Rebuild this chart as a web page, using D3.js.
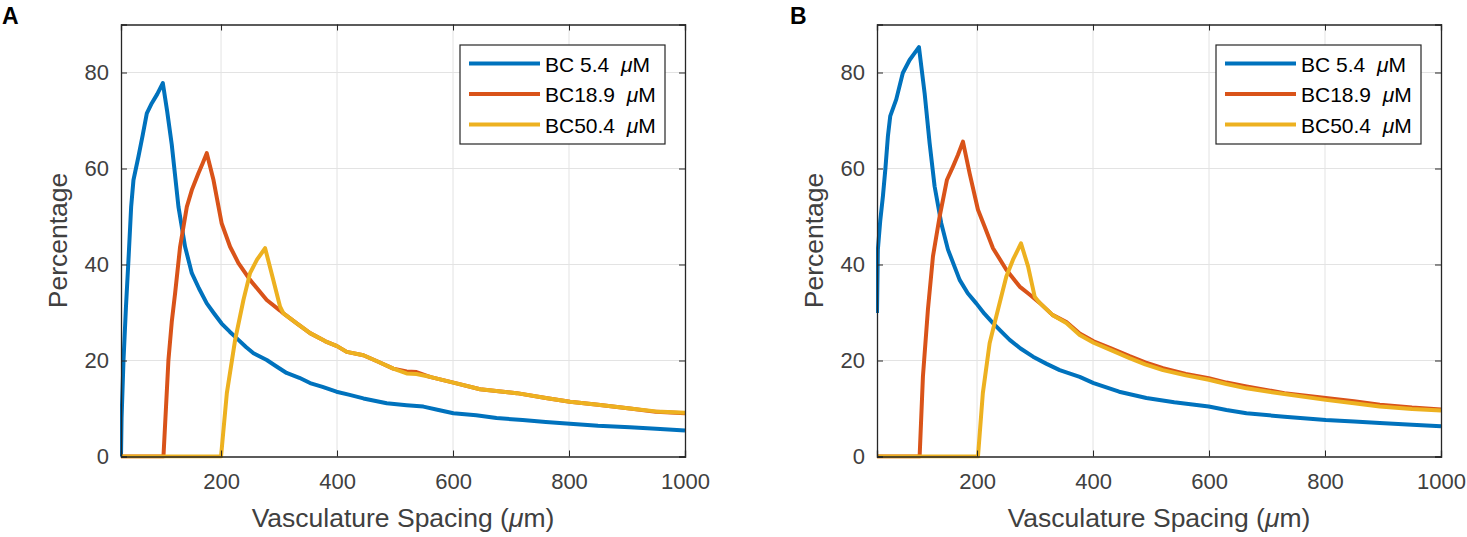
<!DOCTYPE html>
<html>
<head>
<meta charset="utf-8">
<script src="https://cdn.jsdelivr.net/npm/d3@7"></script>
<style>
  body { margin: 0; background: #fff; }
  text { font-family: "Liberation Sans", Arial, Helvetica, sans-serif; }
</style>
</head>
<body>
<div id="chart"></div>
<script>
var svgWidth = 1467;
var svgHeight = 537;

// series names and tick values
var seriesNames = ["BC 5.4  ", "BC18.9  ", "BC50.4  "];
var seriesColors = ["#0072BD", "#D95319", "#EDB120"];
var xTicks = [200, 400, 600, 800, 1000];
var yTicks = [0, 20, 40, 60, 80];
var xDomain = [27.5, 1000];
var yDomain = [0, 90];

// panel A: [spacing, percentage]
var blueA = [[27.5,0],[28.5,8],[31.8,20],[36,31],[40.4,41],[45,52],[49,57.6],[57.6,62.5],[65,67],[72,71.5],
  [80.6,73.6],[90,75.5],[99.6,77.8],[107,72],[115,65],[126.6,52],[138,43.7],[149.6,38.2],[162,35],[175.4,31.9],
  [188,29.8],[201,27.7],[215,26],[230,24.3],[243,22.8],[256,21.5],[278.8,20.1],[295,18.8],[313,17.4],[335,16.4],
  [353.5,15.3],[375,14.5],[399,13.5],[420,12.9],[445.5,12.1],[485.7,11.1],[520,10.7],[548.9,10.4],[575,9.7],
  [600.7,9.0],[640,8.6],[675,8.0],[720,7.6],[760,7.2],[801.6,6.8],[850,6.4],[905,6.1],[950,5.8],[1000,5.4]];
var orangeA = [[27.5,0],[100.7,0],[109.3,20.1],[115,28],[120.8,34],[129.4,43.7],[141,52],[149.6,55.5],[161,59],
  [168,61],[175.4,63.2],[187,57.6],[201,48.6],[215.6,43.7],[230,40.3],[250,36.8],[278.8,32.6],[301.8,30.4],
  [307.6,29.8],[330,27.8],[353.5,25.7],[380,24],[400,23],[416.7,21.8],[445.5,21.1],[470,19.8],[497,18.3],
  [520,17.7],[537,17.6],[560,16.6],[600.7,15.4],[646.7,14.0],[710,13.2],[760,12.2],[801.6,11.4],[850,10.8],
  [905,10.0],[950,9.3],[1000,9.0]];
var yellowA = [[27.5,0],[200,0],[210,13.2],[224.3,24.3],[238.6,32.6],[250,38.2],[262,41],[276,43.4],[290,36.8],
  [301.8,31.2],[307.6,29.8],[330,27.8],[353.5,25.7],[380,24],[400,23],[416.7,21.8],[445.5,21.1],[470,19.8],
  [497,18.3],[520,17.3],[537,17.2],[560,16.6],[600.7,15.4],[646.7,14.0],[710,13.2],[760,12.2],[801.6,11.4],
  [850,10.8],[905,10.0],[950,9.4],[1000,9.1]];

// panel B
var blueB = [[27.5,29.9],[29,43.1],[33,49],[37.7,54.2],[42,60],[46.3,66.7],[50.3,70.9],[60.7,74.4],[72,79.9],
  [83.7,82.6],[92,84],[99.8,85.3],[109.6,75.7],[118.2,65.3],[126.8,56.3],[138.3,48.6],[149.9,43.1],[170,36.8],
  [184,34],[198.7,31.9],[213,29.7],[227.5,27.8],[242,26],[256.3,24.3],[275,22.5],[296.5,20.8],[320,19.3],
  [342.5,18.0],[377,16.6],[401,15.3],[445,13.5],[492,12.2],[540,11.3],[599.6,10.4],[630,9.7],[664.6,9.0],
  [730,8.3],[801.3,7.6],[850,7.3],[894.5,7.0],[950,6.6],[1000,6.3]];
var orangeB = [[27.5,0],[101,0],[106.7,16.7],[115.3,30.6],[124,41.7],[135.5,50],[148,57.6],[158.5,60.4],
  [167,62.8],[175.7,65.6],[187.2,59],[201.6,51.4],[213,47.9],[227.5,43.4],[250.5,38.9],[273.5,35.4],[290,33.8],
  [308,32],[330,29.5],[354,28],[377,25.6],[401,24],[430,22.6],[463,20.9],[490,19.6],[520.6,18.4],[560,17.2],
  [599.6,16.3],[630,15.4],[664.6,14.6],[730,13.2],[801.3,12.2],[850,11.5],[894.5,10.8],[950,10.2],[1000,9.8]];
var yellowB = [[27.5,0],[201.6,0],[210,13.2],[221.7,23.6],[233,29.1],[250.5,37.5],[262,41],[275.8,44.4],
  [288,39.6],[299.4,33.3],[308,32],[330,29.5],[354,27.8],[377,25.3],[401,23.7],[430,22.2],[463,20.5],[490,19.2],
  [520.6,18.0],[560,16.9],[599.6,16.0],[630,15.1],[664.6,14.2],[730,13.0],[801.3,11.8],[850,11.1],
  [894.5,10.4],[950,9.9],[1000,9.6]];

var panels = [
  {label: "A", left: 121, labelX: 2, series: [blueA, orangeA, yellowA]},
  {label: "B", left: 877, labelX: 790, series: [blueB, orangeB, yellowB]}
];

var plotW = 564;
var plotTop = 24.5;
var plotBottom = 456.5;
var axisColor = "#262626";
var textColor = "#404040";

var svg = d3.select("#chart")
  .append("svg")
  .attr("width", svgWidth)
  .attr("height", svgHeight);

panels.forEach(function(p, pi) {
  var x = d3.scaleLinear().domain(xDomain).range([p.left, p.left + plotW]);
  var y = d3.scaleLinear().domain(yDomain).range([plotBottom, plotTop]);
  var g = svg.append("g");

  // grid
  g.selectAll(".vgrid").data(xTicks.filter(d => d < 1000)).enter()
    .append("line")
    .attr("x1", d => x(d)).attr("x2", d => x(d))
    .attr("y1", plotTop).attr("y2", plotBottom)
    .attr("stroke", "#e3e3e3").attr("stroke-width", 1);
  g.selectAll(".hgrid").data(yTicks.filter(d => d > 0)).enter()
    .append("line")
    .attr("x1", p.left).attr("x2", p.left + plotW)
    .attr("y1", d => y(d)).attr("y2", d => y(d))
    .attr("stroke", "#e3e3e3").attr("stroke-width", 1);

  // curves
  var clipId = "clip" + pi;
  svg.append("clipPath").attr("id", clipId)
    .append("rect")
    .attr("x", p.left - 1).attr("y", plotTop)
    .attr("width", plotW + 2).attr("height", plotBottom - plotTop + 2);

  var line = d3.line()
    .x(d => x(d[0]))
    .y(d => y(d[1]));

  g.append("g").attr("clip-path", "url(#" + clipId + ")")
    .selectAll("path").data(p.series).enter()
    .append("path")
    .attr("d", line)
    .attr("fill", "none")
    .attr("stroke", (d, i) => seriesColors[i])
    .attr("stroke-width", 4)
    .attr("stroke-linejoin", "round");

  // axes with inward ticks, box on all sides
  var bottomAxis = d3.axisBottom(x).tickValues(xTicks).tickSize(-6).tickPadding(17).tickFormat(d3.format("d"));
  var topAxis = d3.axisTop(x).tickValues(xTicks).tickSize(-6).tickFormat("");
  var leftAxis = d3.axisLeft(y).tickValues(yTicks).tickSize(-6).tickPadding(12);
  var rightAxis = d3.axisRight(y).tickValues(yTicks).tickSize(-6).tickFormat("");

  var axes = [
    g.append("g").attr("transform", `translate(0, ${plotBottom})`).call(bottomAxis),
    g.append("g").attr("transform", `translate(0, ${plotTop})`).call(topAxis),
    g.append("g").attr("transform", `translate(${p.left}, 0)`).call(leftAxis),
    g.append("g").attr("transform", `translate(${p.left + plotW}, 0)`).call(rightAxis)
  ];
  axes.forEach(function(a) {
    a.select(".domain").attr("stroke", axisColor).attr("stroke-width", 1.3);
    a.selectAll(".tick line").attr("stroke", axisColor).attr("stroke-width", 1);
    a.selectAll(".tick text")
      .attr("fill", textColor)
      .style("font-size", "22px")
      .style("font-family", "'Liberation Sans', Arial, sans-serif");
  });

  // axis titles
  var xl = g.append("text")
    .attr("x", p.left + plotW / 2)
    .attr("y", 527)
    .attr("text-anchor", "middle")
    .attr("fill", textColor)
    .style("font-size", "26.5px");
  xl.append("tspan").text("Vasculature Spacing (");
  xl.append("tspan").attr("font-style", "italic").text("\u03bc");
  xl.append("tspan").text("m)");

  g.append("text")
    .attr("transform", `translate(${p.left - 54}, ${(plotTop + plotBottom) / 2}) rotate(-90)`)
    .attr("text-anchor", "middle")
    .attr("fill", textColor)
    .style("font-size", "26.5px")
    .text("Percentage");

  // panel letter
  g.append("text")
    .attr("x", p.labelX)
    .attr("y", 24)
    .attr("fill", "#000")
    .style("font-size", "23px")
    .style("font-weight", "bold")
    .text(p.label);

  // legend
  var lx = p.left + 339;
  var ly = 45;
  var legend = g.append("g").attr("transform", `translate(${lx}, ${ly})`);
  legend.append("rect")
    .attr("width", 205).attr("height", 99)
    .attr("fill", "#fff")
    .attr("stroke", axisColor).attr("stroke-width", 1.2);
  var rows = legend.selectAll(".row").data(seriesNames).enter()
    .append("g")
    .attr("transform", (d, i) => `translate(0, ${18.5 + i * 30.5})`);
  rows.append("line")
    .attr("x1", 9).attr("x2", 80)
    .attr("stroke", (d, i) => seriesColors[i])
    .attr("stroke-width", 4);
  var lt = rows.append("text")
    .attr("x", 85)
    .attr("y", 8)
    .attr("fill", "#000")
    .style("font-size", "21px")
    .style("white-space", "pre");
  lt.append("tspan").text(d => d);
  lt.append("tspan").attr("font-style", "italic").text("\u03bc");
  lt.append("tspan").text("M");
});
</script>
</body>
</html>
